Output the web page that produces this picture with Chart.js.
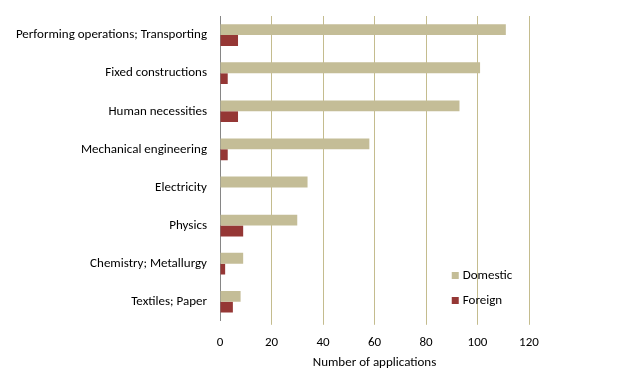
<!DOCTYPE html>
<html>
<head>
<meta charset="utf-8">
<script src="https://cdn.jsdelivr.net/npm/chart.js@4/dist/chart.umd.min.js"></script>
<style>
  html, body { margin: 0; padding: 0; background: #fff; }
  #wrap { width: 637px; height: 386px; }
</style>
</head>
<body>
<div id="wrap"><canvas id="chartArea"></canvas></div>
<script>
// Chart data
var categories = [
  'Performing operations; Transporting',
  'Fixed constructions',
  'Human necessities',
  'Mechanical engineering',
  'Electricity',
  'Physics',
  'Chemistry; Metallurgy',
  'Textiles; Paper'
];
var domestic = [111, 101, 93, 58, 34, 30, 9, 8];
var foreign = [7, 3, 7, 3, 0, 9, 2, 5];
var xTicks = [0, 20, 40, 60, 80, 100, 120];

var fontFamily = 'Calibri, Carlito, Lato, "Open Sans", sans-serif';
var fontSize = 13;

// Legend drawn inside the plot area, lower right
var innerLegend = {
  id: 'innerLegend',
  afterDraw: function(chart) {
    var ctx = chart.ctx;
    var x = chart.scales.x.getPixelForValue(90);
    var y0 = 276;
    ctx.save();
    ctx.font = fontSize + 'px ' + fontFamily;
    ctx.textBaseline = 'middle';
    chart.data.datasets.forEach(function(ds, i) {
      var y = y0 + i * 25;
      ctx.fillStyle = ds.backgroundColor;
      ctx.fillRect(x, y - 4, 7, 7);
      ctx.fillStyle = '#000';
      ctx.fillText(ds.label, x + 11, y);
    });
    ctx.restore();
  }
};

var ctx = document.getElementById('chartArea').getContext('2d');
new Chart(ctx, {
  type: 'bar',
  data: {
    labels: categories,
    datasets: [
      { label: 'Domestic', data: domestic, backgroundColor: '#c4bd97' },
      { label: 'Foreign', data: foreign, backgroundColor: '#953735' }
    ]
  },
  options: {
    indexAxis: 'y',
    responsive: true,
    maintainAspectRatio: false,
    animation: false,
    categoryPercentage: 0.57,
    barPercentage: 1,
    layout: { padding: { top: 16, right: 108, bottom: 15, left: 0 } },
    plugins: {
      legend: { display: false },
      tooltip: { enabled: false }
    },
    scales: {
      x: {
        min: 0,
        max: 120,
        afterBuildTicks: function(axis) {
          axis.ticks = xTicks.map(function(v) { return { value: v }; });
        },
        grid: {
          color: function(c) { return c.tick && c.tick.value === 0 ? 'rgba(0,0,0,0)' : '#c4bc8e'; },
          lineWidth: 1,
          drawTicks: true,
          tickLength: 4
        },
        border: { display: false },
        ticks: { color: '#000', font: { family: fontFamily, size: fontSize }, padding: 10 },
        title: {
          display: true,
          text: 'Number of applications',
          color: '#000',
          font: { family: fontFamily, size: fontSize },
          padding: { top: -5, bottom: 0 }
        }
      },
      y: {
        afterFit: function(axis) { axis.width = 220; },
        grid: { color: 'rgba(0,0,0,0)', drawOnChartArea: false, drawTicks: true, tickLength: 10 },
        border: { display: true, color: '#868686', width: 1 },
        ticks: { color: '#000', font: { family: fontFamily, size: fontSize }, padding: 3 }
      }
    }
  },
  plugins: [innerLegend]
});
</script>
</body>
</html>
